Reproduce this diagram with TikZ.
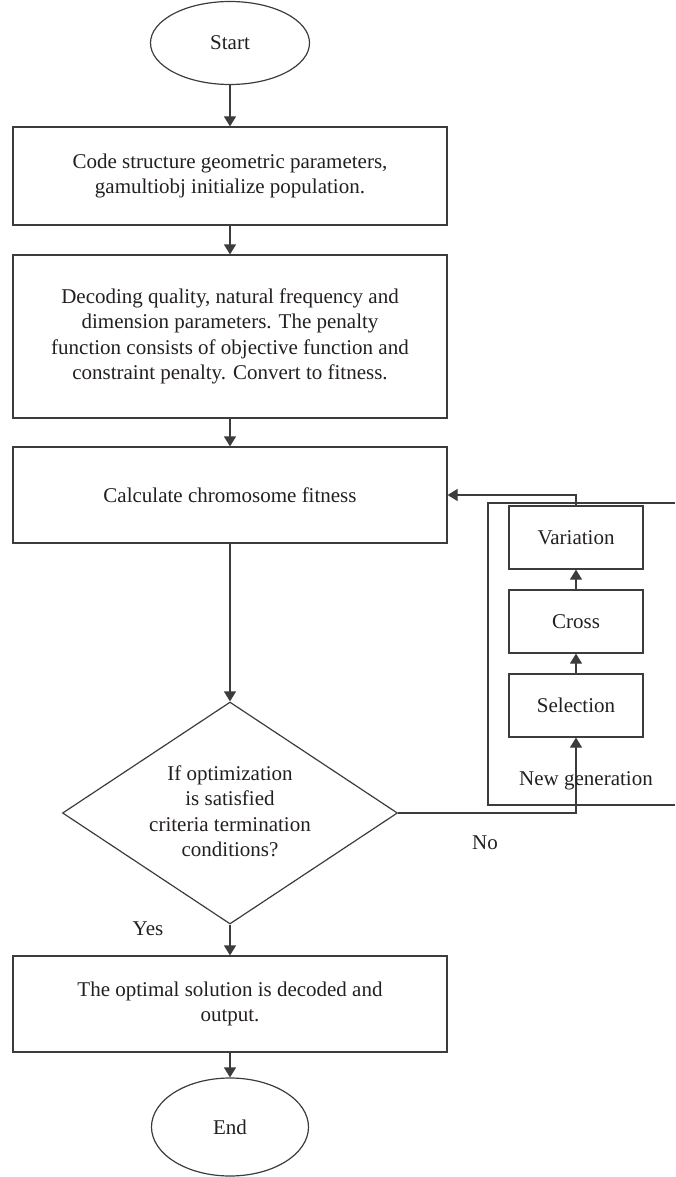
\documentclass[tikz,border=0pt]{standalone}
\usepackage{fontspec}
\setmainfont{Liberation Serif}
\usetikzlibrary{shapes.geometric,arrows.meta}
\definecolor{ln}{RGB}{60,60,60}
\definecolor{tx}{RGB}{35,31,32}
\tikzset{
  base/.style={draw=ln, line width=1.2pt, text=tx, font=\fontsize{21}{25.5}\selectfont, align=center, inner sep=0pt},
  procbox/.style={base, rectangle, minimum width=434pt},
  smallbox/.style={base, rectangle, minimum width=134pt, minimum height=63pt},
  term/.style={base, ellipse},
  decis/.style={base, diamond, minimum width=335pt, minimum height=222pt},
  lbl/.style={text=tx, font=\fontsize{21}{25.5}\selectfont, inner sep=0pt},
  arr/.style={draw=ln, line width=1.2pt, -{Triangle[length=10pt,width=12pt]}},
  plain/.style={draw=ln, line width=1.2pt}
}
\begin{document}
\begin{tikzpicture}[x=1pt,y=-1pt]
\useasboundingbox (0,0) rectangle (675,1177);
\node[term, minimum width=159pt, minimum height=83pt] (start) at (230,43) {Start};
\node[procbox, minimum height=98pt] (b1) at (230,176) {Code structure geometric parameters,\\gamultiobj initialize population.};
\node[procbox, minimum height=163pt] (b2) at (230,336.5) {Decoding quality, natural frequency and\\dimension parameters. The penalty\\function consists of objective function and\\constraint penalty. Convert to fitness.};
\node[procbox, minimum height=96pt] (b3) at (230,495) {Calculate chromosome fitness};
\node[decis] (dec) at (230,813) {};
\node[lbl, align=center] (dect) at (230,811) {If optimization\\is satisfied\\criteria termination\\conditions?};
\node[procbox, minimum height=96pt] (b4) at (230,1004) {The optimal solution is decoded and\\output.};
\node[term, minimum width=157pt, minimum height=98pt] (end) at (230,1127) {End};

\node[smallbox] (var) at (576,537.5) {Variation};
\node[smallbox] (cro) at (576,621.5) {Cross};
\node[smallbox] (sel) at (576,705.5) {Selection};

\coordinate (r1) at (675,503);
\coordinate (r2) at (488,503);
\coordinate (r3) at (488,805);
\coordinate (r4) at (675,805);
\draw[plain] (r1) -- (r2) -- (r3) -- (r4);

\draw[arr] (start) -- (b1);
\draw[arr] (b1) -- (b2);
\draw[arr] (b2) -- (b3);
\draw[arr] (b3) -- (dec.north);
\draw[arr] (dec.south) -- (b4);
\draw[arr] (b4) -- (end);
\draw[arr] (dec.east) -| (sel.south);
\draw[arr] (sel) -- (cro);
\draw[arr] (cro) -- (var);
\draw[arr] (var.north) |- (b3.east);

\node[lbl] (ng) at (586,781) {New generation};
\node[lbl] (no) at (485,843) {No};
\node[lbl] (yes) at (148,929) {Yes};
\end{tikzpicture}
\end{document}
